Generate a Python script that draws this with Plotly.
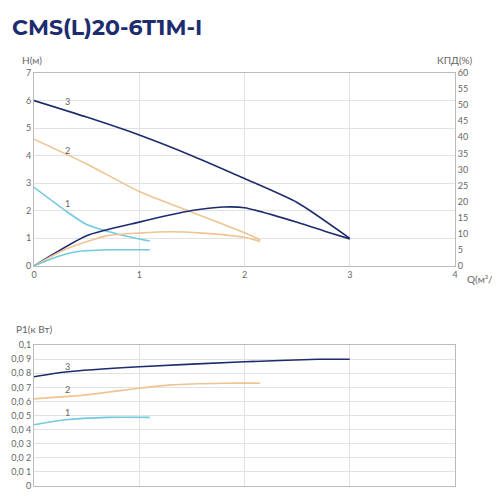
import plotly.graph_objects as go

NAVY = "#1d2c6e"
TAN = "#efc492"
BLUE = "#72c9e0"

# head curves H(m) vs Q(m3/h)
q3_h = [0, 0.5, 1.0, 1.5, 2.0, 2.5, 3.0]
h3 = [6.0, 5.4, 4.75, 4.0, 3.17, 2.3, 1.0]
q2_h = [0, 0.5, 1.0, 1.5, 2.0, 2.15]
h2 = [4.6, 3.7, 2.7, 1.95, 1.2, 0.95]
q1_h = [0, 0.3, 0.5, 0.8, 1.1]
h1 = [2.85, 2.0, 1.5, 1.15, 0.9]

# efficiency (%)
q3_e = [0, 0.5, 1.0, 1.5, 1.8, 2.0, 2.5, 2.8, 3.0]
e3 = [0, 9.4, 13.6, 17.2, 18.3, 18.1, 13.6, 10.4, 8.4]
q2_e = [0, 0.3, 0.7, 1.0, 1.3, 1.6, 2.0, 2.15]
e2 = [0, 5.2, 9.4, 10.2, 10.6, 10.2, 8.9, 7.6]
q1_e = [0, 0.2, 0.4, 0.7, 1.1]
e1 = [0, 2.6, 4.4, 5.0, 5.0]

# power P1 (kW)
q3_p = [0, 0.3, 1.0, 2.0, 2.7, 3.0]
p3 = [0.0776, 0.081, 0.0847, 0.0882, 0.090, 0.090]
q2_p = [0, 0.5, 1.0, 1.3, 1.8, 2.15]
p2 = [0.0619, 0.0647, 0.0694, 0.0718, 0.073, 0.073]
q1_p = [0, 0.3, 0.7, 1.1]
p1 = [0.0435, 0.047, 0.0487, 0.0487]

p_ticks = [i / 100 for i in range(11)]
p_labels = ["0", "0,0 1", "0,0 2", "0,0 3", "0,0 4", "0,0 5",
            "0,0 6", "0,0 7", "0,0 8", "0,0 9", "0,1"]

fig = go.Figure()
line = dict(shape="spline", smoothing=0.6, width=1.6)
for q, h, c in [(q3_h, h3, NAVY), (q2_h, h2, TAN), (q1_h, h1, BLUE)]:
    fig.add_trace(go.Scatter(x=q, y=h, mode="lines", line=dict(color=c, **line),
                             xaxis="x", yaxis="y"))
for q, e, c in [(q3_e, e3, NAVY), (q2_e, e2, TAN), (q1_e, e1, BLUE)]:
    fig.add_trace(go.Scatter(x=q, y=e, mode="lines", line=dict(color=c, **line),
                             xaxis="x", yaxis="y2"))
for q, p, c in [(q3_p, p3, NAVY), (q2_p, p2, TAN), (q1_p, p1, BLUE)]:
    fig.add_trace(go.Scatter(x=q, y=p, mode="lines", line=dict(color=c, **line),
                             xaxis="x2", yaxis="y3"))

grid = "#e2e2e2"
tick_font = dict(family="Lato", size=9, color="#666")
ax = dict(showgrid=True, gridcolor=grid, gridwidth=1, zeroline=False,
          tickfont=tick_font, showline=True, linecolor="#bbb", ticks="",
          automargin=False)
fig.update_layout(
    width=500, height=500, showlegend=False,
    paper_bgcolor="white", plot_bgcolor="white",
    margin=dict(l=26, r=53, t=65, b=22),
    xaxis=dict(ax, range=[0, 4], dtick=1, domain=[0, 1], anchor="y", mirror=True),
    yaxis=dict(ax, range=[0, 7], dtick=1, domain=[0.533, 1], anchor="x"),
    yaxis2=dict(ax, range=[0, 60], dtick=5, overlaying="y", side="right",
                showgrid=False, anchor="x"),
    xaxis2=dict(ax, range=[0, 4], dtick=1, domain=[0, 1], anchor="y3",
                showticklabels=False, mirror=True),
    yaxis3=dict(ax, range=[0, 0.1], tickvals=p_ticks, ticktext=p_labels,
                domain=[0, 0.341], anchor="x2", mirror=True),
    font=dict(family="Lato", color="#666"),
)

ann = [
    dict(text="<b>CMS(L)20-6T1M-I</b>", x=0.0, y=1.0, xref="paper", yref="paper",
         xanchor="left", yanchor="bottom", yshift=30, xshift=-24,
         font=dict(family="Montserrat, Lato", size=22, color=NAVY)),
    dict(text="H(м)", x=0, y=1, xref="paper", yref="paper", xanchor="left",
         yanchor="bottom", xshift=-14, yshift=5, font=dict(size=10)),
    dict(text="КПД(%)", x=1, y=1, xref="paper", yref="paper", xanchor="right",
         yanchor="bottom", xshift=20, yshift=5, font=dict(size=10)),
    dict(text="Q(м³/ч)", x=1, y=0.533, xref="paper", yref="paper", xanchor="left",
         yanchor="top", xshift=10, yshift=-5, font=dict(size=10)),
    dict(text="P1(к Вт)", x=0, y=0.341, xref="paper", yref="paper", xanchor="left",
         yanchor="bottom", xshift=-20, yshift=8, font=dict(size=10)),
]
for lbl, yv in [("3", 5.95), ("2", 4.2), ("1", 2.25)]:
    ann.append(dict(text=lbl, x=0.32, y=yv, xref="x", yref="y", showarrow=False,
                    font=dict(size=9)))
for lbl, yv in [("3", 0.0845), ("2", 0.0685), ("1", 0.052)]:
    ann.append(dict(text=lbl, x=0.32, y=yv, xref="x2", yref="y3", showarrow=False,
                    font=dict(size=9)))
for a in ann:
    a.setdefault("showarrow", False)
fig.update_layout(annotations=ann)

fig.write_html("out.html")
